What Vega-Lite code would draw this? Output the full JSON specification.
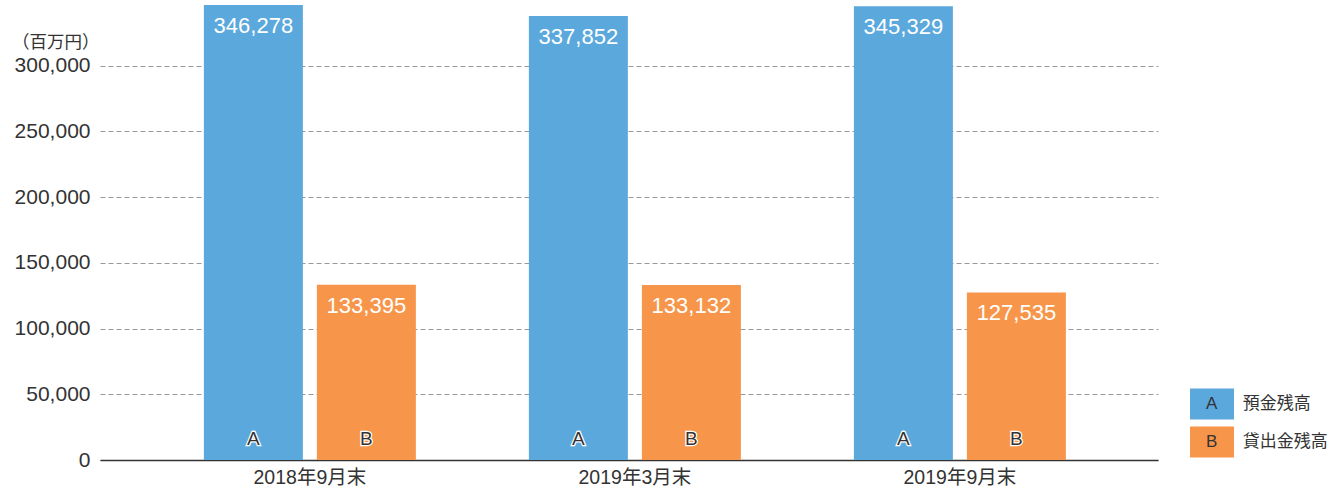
{
  "$schema": "https://vega.github.io/schema/vega-lite/v6.json",
  "width": 1058,
  "height": 460,
  "autosize": {"type": "none"},
  "padding": {"left": 100, "top": 0, "right": 182, "bottom": 31},
  "background": "white",
  "config": {
    "view": {"stroke": null},
    "font": "Liberation Sans, Noto Sans CJK JP",
    "text": {"font": "Liberation Sans, Noto Sans CJK JP"}
  },
  "data": {
    "values": [
      {"period": "2018年9月末", "series": "A", "value": 346278},
      {"period": "2018年9月末", "series": "B", "value": 133395},
      {"period": "2019年3月末", "series": "A", "value": 337852},
      {"period": "2019年3月末", "series": "B", "value": 133132},
      {"period": "2019年9月末", "series": "A", "value": 345329},
      {"period": "2019年9月末", "series": "B", "value": 127535}
    ]
  },
  "encoding": {
    "x": {
      "field": "period",
      "type": "nominal",
      "sort": null,
      "scale": {"paddingInner": 0.3477, "paddingOuter": 0.3015, "align": 0.53},
      "axis": {
        "title": null,
        "labelAngle": 0,
        "labelFontSize": 19.5,
        "labelColor": "#333333",
        "labelPadding": 8,
        "ticks": false,
        "domainColor": "#333333",
        "domainWidth": 1.5,
        "grid": false
      }
    },
    "xOffset": {
      "field": "series",
      "type": "nominal",
      "scale": {"paddingInner": 0.124, "paddingOuter": 0}
    },
    "y": {
      "field": "value",
      "type": "quantitative",
      "scale": {"domain": [0, 350000], "nice": false},
      "axis": {
        "values": [0, 50000, 100000, 150000, 200000, 250000, 300000],
        "labelExpr": "format(datum.value, ',')",
        "domain": false,
        "ticks": false,
        "labelFontSize": 21,
        "labelColor": "#333333",
        "labelPadding": 10,
        "grid": true,
        "gridColor": "#999999",
        "gridDash": [5, 3],
        "gridWidth": 1,
        "title": "（百万円）",
        "titleAngle": 0,
        "titleAlign": "right",
        "titleBaseline": "middle",
        "titleX": -1,
        "titleY": 42,
        "titleFontSize": 17.5,
        "titleFontWeight": "normal",
        "titleColor": "#333333"
      }
    }
  },
  "layer": [
    {
      "mark": {"type": "bar"},
      "encoding": {
        "color": {
          "field": "series",
          "type": "nominal",
          "scale": {"domain": ["A", "B"], "range": ["#5BA8DD", "#F7964A"]},
          "legend": {
            "orient": "none",
            "legendX": 1090,
            "legendY": 382,
            "title": null,
            "symbolType": "M-1,-0.7H1V0.7H-1Z",
            "symbolSize": 1936,
            "symbolStrokeWidth": 0,
            "symbolOpacity": 1,
            "rowPadding": -4,
            "labelOffset": -28,
            "labelFontSize": 17,
            "labelColor": "#333333",
            "labelExpr": "datum.label == 'A' ? 'A\u2003\u2002預金残高' : 'B\u2003\u2002貸出金残高'"
          }
        }
      }
    },
    {
      "mark": {"type": "text", "baseline": "top", "dy": 11, "fontSize": 22, "color": "white"},
      "encoding": {
        "text": {"field": "value", "type": "quantitative", "format": ","}
      }
    },
    {
      "mark": {"type": "text", "baseline": "bottom", "dy": -11, "fontSize": 19, "color": "white", "stroke": "white", "strokeWidth": 2.5},
      "encoding": {
        "y": {"datum": 0},
        "text": {"field": "series", "type": "nominal"}
      }
    },
    {
      "mark": {"type": "text", "baseline": "bottom", "dy": -11, "fontSize": 19, "color": "#333333"},
      "encoding": {
        "y": {"datum": 0},
        "text": {"field": "series", "type": "nominal"}
      }
    }
  ]
}
